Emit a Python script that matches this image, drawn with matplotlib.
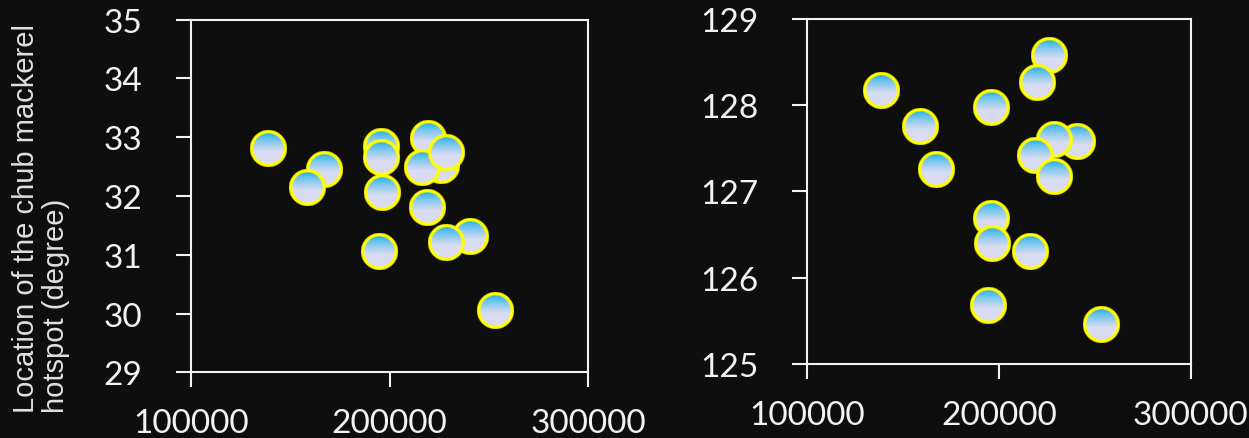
import matplotlib
matplotlib.use('Agg')
import matplotlib.pyplot as plt
from matplotlib.offsetbox import OffsetImage, AnnotationBbox
import numpy as np

# catch (x) shared by both panels, hotspot latitude / longitude (y)
catch = [138600, 166900, 158700, 195900, 195900, 196500, 194500, 226200,
         219600, 216200, 240500, 228600, 218800, 228600, 253100]
latitude = [32.80, 32.44, 32.14, 32.84, 32.65, 32.06, 31.04, 32.52,
            32.97, 32.48, 31.30, 32.74, 31.79, 31.20, 30.05]
longitude = [128.16, 127.25, 127.75, 127.97, 126.68, 126.39, 125.67, 128.57,
             128.26, 126.30, 127.57, 127.59, 127.41, 127.17, 125.45]

x_ticks = [100000, 200000, 300000]
lat_ticks = [29, 30, 31, 32, 33, 34, 35]
lon_ticks = [125, 126, 127, 128, 129]
ylabel = 'Location of the chub mackerel\nhotspot (degree)'

BG = '#0e0e0e'
FG = '#f2f2f2'


def bubble_image(n=104, ring=0.18):
    # gradient filled circle with a yellow ring, drawn as RGBA array
    yy, xx = np.mgrid[0:n, 0:n]
    c = (n - 1) / 2.0
    r = np.sqrt((xx - c) ** 2 + (yy - c) ** 2) / (n / 2.0)
    t = np.clip(yy / (n - 1), 0, 1)
    top = np.array([0.08, 0.68, 0.92])
    bot = np.array([0.85, 0.86, 0.95])
    w = np.clip((t - 0.08) / 0.5, 0, 1) ** 0.7
    fill = top[None, None, :] * (1 - w[..., None]) + bot[None, None, :] * w[..., None]
    yellow = np.array([1.0, 1.0, 0.0])
    img = np.zeros((n, n, 4))
    inner = np.clip((1 - ring - r) * n / 2.0 / 4 + 0.5, 0, 1)[..., None]
    img[..., :3] = fill * inner + yellow * (1 - inner)
    img[..., 3] = np.clip((1 - r) * n / 2.0 / 4 + 0.5, 0, 1)
    return img


marker_img = bubble_image()

plt.rcParams['font.family'] = ['Lato', 'DejaVu Sans']
fig = plt.figure(figsize=(12.49, 4.39), dpi=100, facecolor=BG)
ax1 = fig.add_axes([0.1529, 0.1496, 0.3179, 0.8032])
ax2 = fig.add_axes([0.6465, 0.1686, 0.3068, 0.7866])


def draw_panel(ax, x, y, yticks):
    ax.set_facecolor(BG)
    ax.scatter(x, y, s=300, c='#d8dcf2', edgecolors='yellow', linewidths=1.5, zorder=2)
    for xi, yi in zip(x, y):
        ab = AnnotationBbox(OffsetImage(marker_img, zoom=26 / 104), (xi, yi),
                            xycoords='data', frameon=False, pad=0)
        ab.set_zorder(3)
        ax.add_artist(ab)
    ax.set_xlim(x_ticks[0], x_ticks[-1])
    ax.set_ylim(yticks[0], yticks[-1])
    ax.set_xticks(x_ticks)
    ax.set_yticks(yticks)
    for sp in ax.spines.values():
        sp.set_color(FG)
        sp.set_linewidth(1.5)
    ax.tick_params(colors=FG, width=1.5, length=11, labelsize=24, direction='out')
    ax.tick_params(axis='y', pad=24)
    ax.tick_params(axis='x', pad=15)


draw_panel(ax1, catch, latitude, lat_ticks)
draw_panel(ax2, catch, longitude, lon_ticks)

fig.text(0.033, 0.059, ylabel, rotation=90, ha='center', va='bottom',
         multialignment='left', color='#e0e0e0', fontsize=21,
         family=['Liberation Sans', 'DejaVu Sans'], linespacing=1.1)

plt.savefig('out.png', dpi=100, facecolor=BG)
